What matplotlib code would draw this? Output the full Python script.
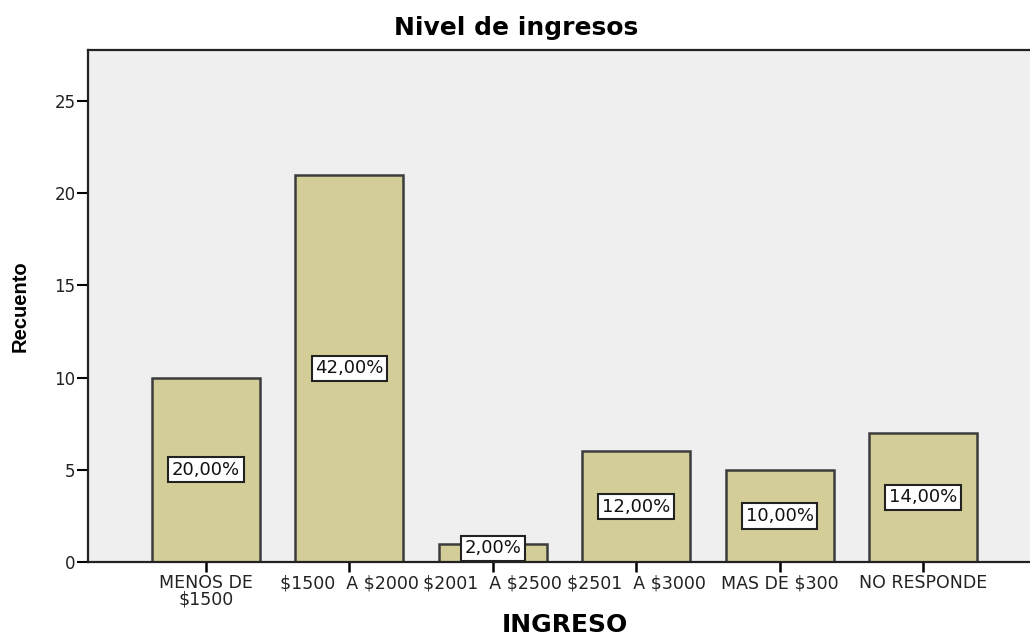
import numpy as np
import matplotlib.pyplot as plt

plt.rcParams['font.family'] = ['DejaVu Sans']
plt.rcParams['text.parse_math'] = False

# datos
categorias = ["MENOS DE\n$1500", "$1500  A $2000", "$2001  A $2500",
              "$2501  A $3000", "MAS DE $300", "NO RESPONDE"]
recuento = [10, 21, 1, 6, 5, 7]
porcentajes = ["20,00%", "42,00%", "2,00%", "12,00%", "10,00%", "14,00%"]

fig = plt.figure(figsize=(10.3, 6.35), dpi=100)
ax = fig.add_axes([88/1030, 1 - 562/635, 1 - 88/1030, 512/635])
ax.set_facecolor("#efefef")

x = np.arange(len(categorias))
ax.bar(x, recuento, width=0.753, color="#d3ce98", edgecolor="#3c3c3c", linewidth=1.8, zorder=2)

# etiquetas de porcentaje
for xi, v, p in zip(x, recuento, porcentajes):
    ax.text(xi, max(v / 2, 0.75), p, ha="center", va="center", fontsize=13, zorder=3,
            color="#111111",
            bbox=dict(boxstyle="square,pad=0.2", fc="white", ec="#222222", lw=1.5))

ax.set_xlim(-0.823, 5.746)
ax.set_ylim(0, 27.77)
ax.set_yticks([0, 5, 10, 15, 20, 25])
ax.set_xticks(x)
ax.set_xticklabels(categorias, fontsize=12.5, color="#222222", linespacing=0.85)
ax.tick_params(axis="y", length=8, width=1.5, labelsize=12, labelcolor="#222222", pad=1)
ax.tick_params(axis="x", length=7, width=1.8, pad=2)

for s in ["top", "left", "bottom"]:
    ax.spines[s].set_linewidth(1.6)
    ax.spines[s].set_color("#222222")
ax.spines["right"].set_visible(False)

fig.text(516/1030, 1 - 28/635, "Nivel de ingresos", ha="center", va="center",
         fontsize=18, fontweight="bold")
fig.text(565/1030, 1 - 625/635, "INGRESO", ha="center", va="center",
         fontsize=18, fontweight="bold")
fig.text(20/1030, 1 - 306/635, "Recuento", ha="center", va="center",
         rotation=90, fontsize=14.5, fontweight="bold",
         family=['Liberation Sans', 'DejaVu Sans'])

fig.savefig("out.png", dpi=100)
